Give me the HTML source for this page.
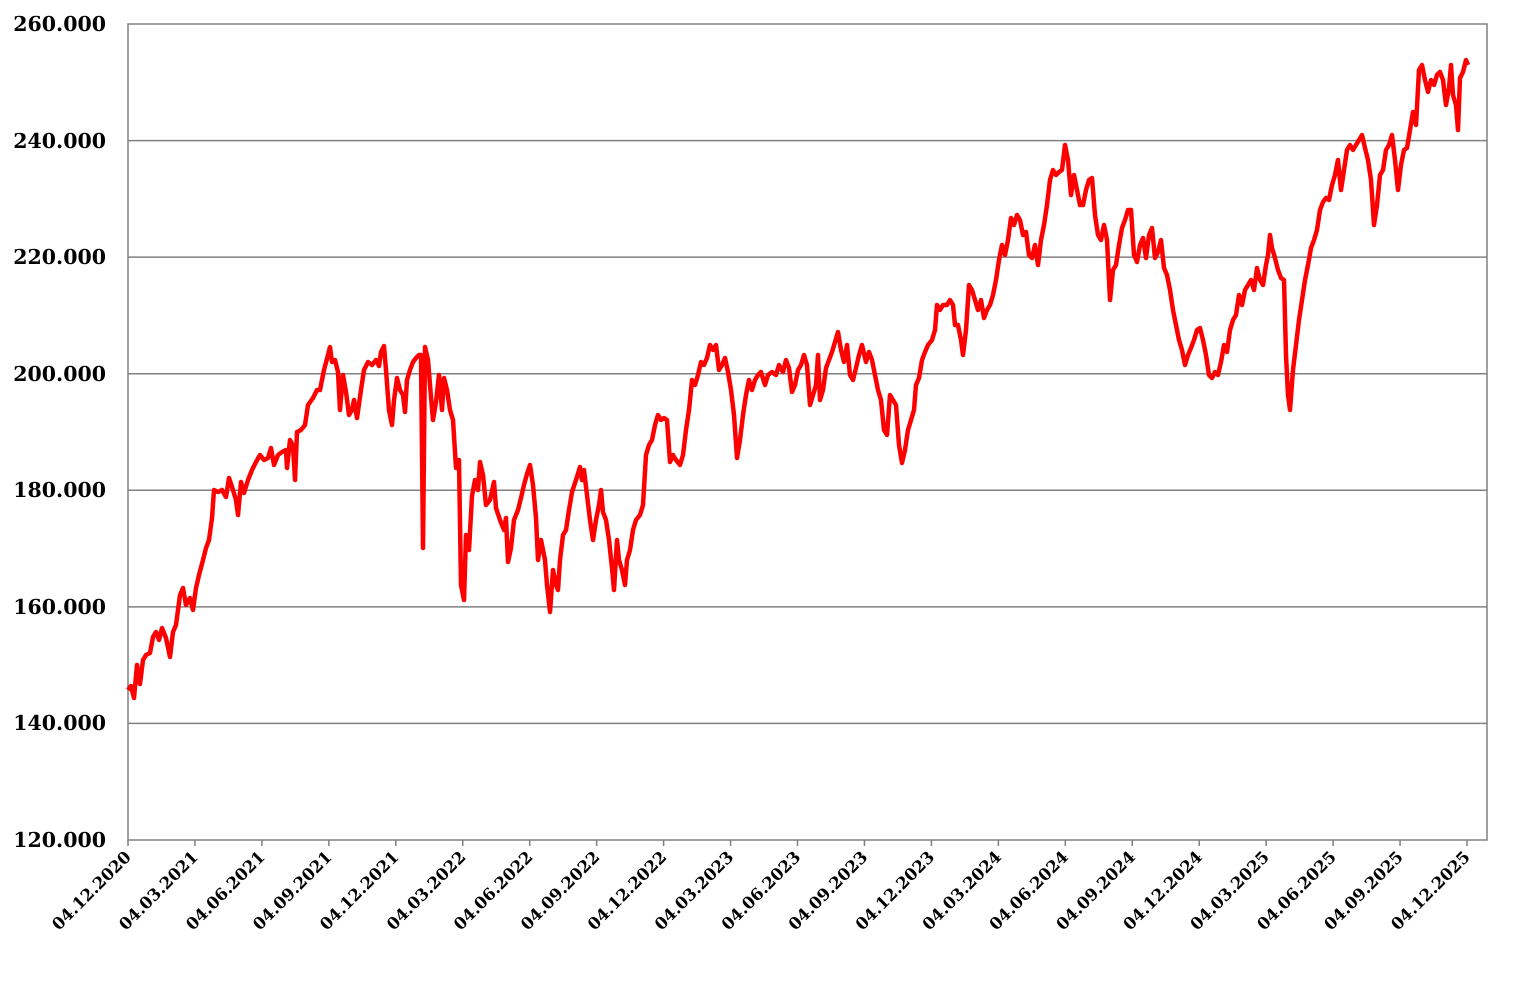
<!DOCTYPE html>
<html><head><meta charset="utf-8"><style>
html,body{margin:0;padding:0;background:#fff;}
svg{display:block;}
text{font-family:"DejaVu Serif","Liberation Serif",serif;font-weight:bold;fill:#000;}
</style></head><body>
<svg width="1524" height="985" viewBox="0 0 1524 985" xmlns="http://www.w3.org/2000/svg">
<g stroke="#808080" stroke-width="1.5" fill="none">
<line x1="128" y1="140.6" x2="1487" y2="140.6"/>
<line x1="128" y1="257.1" x2="1487" y2="257.1"/>
<line x1="128" y1="373.7" x2="1487" y2="373.7"/>
<line x1="128" y1="490.3" x2="1487" y2="490.3"/>
<line x1="128" y1="606.9" x2="1487" y2="606.9"/>
<line x1="128" y1="723.4" x2="1487" y2="723.4"/>
<rect x="128" y="24" width="1359" height="816"/>
</g>
<g font-size="20.5" text-anchor="end">
<text x="106" y="31">260.000</text>
<text x="106" y="148">240.000</text>
<text x="106" y="264">220.000</text>
<text x="106" y="381">200.000</text>
<text x="106" y="497">180.000</text>
<text x="106" y="614">160.000</text>
<text x="106" y="730">140.000</text>
<text x="106" y="847">120.000</text>
</g>
<g id="ticks" stroke="#808080" stroke-width="1.5"></g>
<g id="xl" font-size="16.5" text-anchor="end"></g>
<polyline fill="none" stroke="#ff0000" stroke-width="4.5" stroke-linejoin="round" points="128,690 131,686 134,698 137,665 140,684 143,660 146,655 150,653 153,637 156,632 159,640 162,628 166,638 170,657 173,632 176,625 180,595 183,588 186,605 190,598 193,610 196,588 199,575 203,560 206,548 209,540 212,518 214,490 218,492 222,490 226,497 229,478 233,490 236,500 238,515 241,482 244,493 248,480 252,470 256,462 260,455 264,460 268,458 271,448 274,465 278,455 282,452 286,450 287,468 290,440 293,446 295,480 297,432 301,430 305,425 308,405 313,398 317,390 320,390 324,370 328,355 330,347 332,362 335,360 338,372 340,410 343,375 346,392 349,415 352,410 354,400 357,418 361,390 364,370 368,362 372,365 376,360 379,366 381,352 384,346 386,370 389,410 392,425 394,400 397,378 400,390 403,395 405,412 407,380 410,370 413,362 416,358 419,355 421,355 423,548 425,347 428,360 430,385 433,420 436,402 439,375 442,410 444,378 447,390 450,410 453,420 456,468 459,460 461,585 464,600 466,535 469,550 472,496 475,480 478,490 480,462 483,475 486,505 490,500 494,482 496,508 500,520 504,530 506,518 508,562 511,548 514,520 518,510 521,498 524,485 527,474 530,465 533,485 536,518 538,560 541,540 545,560 547,585 550,612 553,570 556,585 558,590 560,560 563,535 566,530 569,510 572,492 576,480 580,467 582,480 584,470 587,495 590,520 593,540 596,520 599,505 601,490 603,512 606,520 609,540 612,568 614,590 617,540 619,560 622,570 625,585 627,560 630,550 633,530 636,520 640,515 643,505 646,455 649,445 652,440 655,425 658,415 661,420 664,418 667,420 670,462 673,455 676,460 680,465 683,455 686,430 689,410 692,380 695,385 698,375 701,362 704,365 707,358 710,345 713,350 716,345 719,370 722,365 725,358 728,372 731,390 734,415 737,458 740,440 743,415 746,395 749,380 752,390 755,380 758,375 761,372 765,385 768,375 772,372 776,375 779,365 783,372 786,360 789,368 792,392 795,385 798,370 801,365 804,355 807,365 810,405 813,395 816,385 818,355 820,400 823,390 826,368 829,360 832,352 835,342 838,332 841,350 844,362 847,345 850,375 853,380 856,368 859,355 862,345 866,362 869,352 872,360 875,375 878,390 881,400 884,430 887,435 890,395 893,400 896,405 899,445 902,463 905,450 908,430 911,420 914,410 916,385 919,378 922,360 925,352 928,345 932,340 935,330 937,305 940,310 943,305 947,305 950,300 953,305 955,325 958,325 961,340 963,355 966,330 969,285 972,290 975,300 978,310 981,300 984,318 987,310 990,305 993,295 996,280 999,260 1002,245 1005,255 1008,240 1011,218 1014,225 1017,215 1020,220 1023,235 1026,232 1029,255 1032,258 1035,245 1038,265 1041,240 1044,225 1047,205 1050,180 1053,170 1056,175 1059,172 1062,170 1065,145 1068,160 1071,195 1074,175 1077,190 1080,205 1083,205 1086,190 1089,180 1092,178 1095,215 1098,235 1101,240 1104,225 1107,240 1110,300 1113,270 1116,265 1119,245 1122,228 1125,220 1128,210 1131,210 1134,255 1137,262 1140,245 1143,238 1146,258 1149,235 1152,228 1155,258 1158,252 1161,240 1164,268 1167,275 1170,290 1173,310 1176,325 1179,340 1182,350 1185,365 1188,355 1191,348 1194,340 1197,330 1200,328 1203,340 1206,355 1209,375 1212,378 1215,372 1218,375 1221,362 1224,345 1227,352 1230,330 1233,320 1236,315 1239,295 1242,305 1245,290 1248,285 1251,280 1254,290 1257,268 1260,280 1263,285 1266,265 1268,255 1270,235 1272,248 1275,258 1278,270 1281,278 1284,280 1286,355 1288,395 1290,410 1293,370 1296,345 1299,320 1302,300 1305,280 1308,265 1311,248 1314,240 1317,230 1320,210 1323,202 1326,198 1329,200 1332,185 1335,175 1338,160 1341,190 1344,170 1347,150 1350,145 1353,150 1356,145 1359,140 1362,135 1365,148 1368,160 1371,180 1374,225 1377,205 1380,175 1383,170 1386,150 1389,145 1392,135 1395,160 1398,190 1401,165 1404,150 1407,148 1410,130 1413,112 1416,125 1419,70 1422,65 1425,80 1428,92 1431,80 1434,85 1437,75 1440,72 1443,80 1446,105 1449,88 1451,65 1453,95 1456,105 1458,130 1460,78 1463,72 1466,60 1468,65"/>
</svg>
<script>
var labels=["04.12.2020","04.03.2021","04.06.2021","04.09.2021","04.12.2021","04.03.2022","04.06.2022","04.09.2022","04.12.2022","04.03.2023","04.06.2023","04.09.2023","04.12.2023","04.03.2024","04.06.2024","04.09.2024","04.12.2024","04.03.2025","04.06.2025","04.09.2025","04.12.2025"];
var ns="http://www.w3.org/2000/svg",t=document.getElementById("ticks"),g=document.getElementById("xl");
for(var i=0;i<labels.length;i++){var x=128+i*66.95;
var l=document.createElementNS(ns,"line");l.setAttribute("x1",x);l.setAttribute("x2",x);l.setAttribute("y1",840);l.setAttribute("y2",846);t.appendChild(l);
var tx=document.createElementNS(ns,"text");tx.setAttribute("transform","translate("+(x+4)+",858) rotate(-45)");tx.textContent=labels[i];g.appendChild(tx);}
</script>
</body></html>
